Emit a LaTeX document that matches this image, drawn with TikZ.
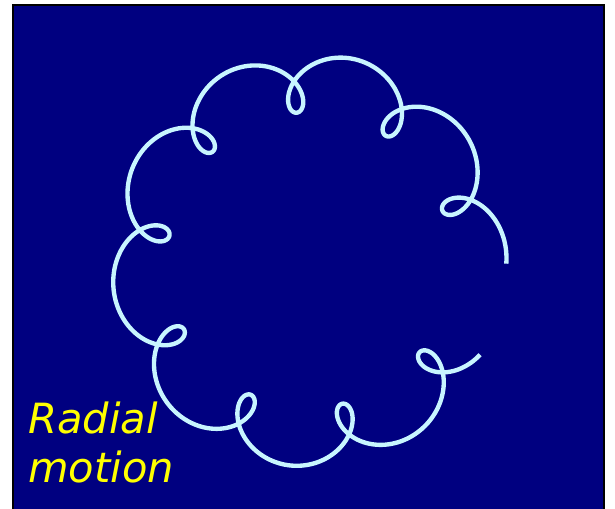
\documentclass[tikz,border=0pt]{standalone}
\usepackage{fontspec}
\setmainfont{DejaVu Sans}
\definecolor{navybg}{RGB}{0,0,128}
\definecolor{pathcyan}{RGB}{200,245,255}
\definecolor{labelyellow}{RGB}{255,255,0}
\tikzset{
  frame/.style={draw=black, line width=1.42pt, fill=navybg},
  orbit/.style={draw=pathcyan, line width=3.1pt, line join=round},
  label/.style={text=labelyellow, inner sep=0pt, font=\fontsize{29.6}{34.6}\selectfont\itshape}
}
\begin{document}
\begin{tikzpicture}[x=0.025cm, y=-0.025cm]
  \useasboundingbox (0,0) rectangle (615,508);
  \clip (0,0) rectangle (615,508);
  \fill[white] (0,0) rectangle (615,508);
  \path[frame] (13,5) rectangle (604,515);
  \draw[orbit] plot[domain=0:336.6, samples=1200, variable=\t]
    ({309+169.5*cos(\t)+28*cos(10.549*\t-7.2)},
     {260-1.045*(169.5*sin(\t)+28*sin(10.549*\t-7.2))});
  \node[label, anchor=base west] (radial) at (28,433) {Radial};
  \node[label, anchor=base west] (motion) at (28,482) {motion};
\end{tikzpicture}
\end{document}
